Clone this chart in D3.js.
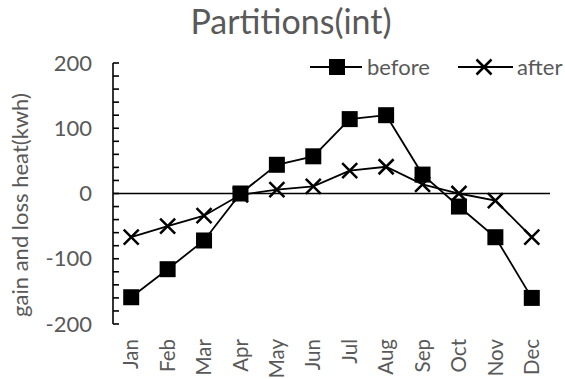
<!DOCTYPE html>
<html>
<head>
<meta charset="utf-8">
<script src="https://cdn.jsdelivr.net/npm/d3@7"></script>
<style>
  html, body { margin: 0; padding: 0; background: #fff; }
  text { font-family: Lato, "Open Sans", sans-serif; fill: #595959; }
</style>
</head>
<body>
<svg id="chart" width="565" height="379"></svg>
<script>
const months = ["Jan","Feb","Mar","Apr","May","Jun","Jul","Aug","Sep","Oct","Nov","Dec"];
const before = [-159, -116, -72, 0, 44, 57, 114, 120, 29, -20, -67, -160];
const after  = [-67, -50, -34, -2, 6, 11, 35, 41, 14, 0, -11, -67];
const yTicks = [-200, -100, 0, 100, 200];

const svg = d3.select("#chart");
const plotLeft = 113, plotRight = 550, plotTop = 63, plotBottom = 324;
const labelSize = "22px";

const x = d3.scaleBand().domain(months).range([plotLeft, plotRight]);
const y = d3.scaleLinear().domain([-200, 200]).range([plotBottom, plotTop]);
const cx = m => x(m) + x.bandwidth() / 2;

// title
svg.append("text").attr("x", 291).attr("y", 34).attr("text-anchor", "middle")
  .style("font-size", "34px").text("Partitions(int)");

// y axis with minor ticks every 20
const yAxis = svg.append("g").attr("transform", `translate(${plotLeft},0)`);
yAxis.append("line").attr("x1", 0).attr("x2", 0).attr("y1", y(200)).attr("y2", y(-200))
  .attr("stroke", "#000").attr("stroke-width", 1.6);
yAxis.selectAll("line.tick").data(d3.range(-200, 201, 20)).join("line")
  .attr("class", "tick").attr("x1", 0).attr("x2", 6)
  .attr("y1", d => y(d)).attr("y2", d => y(d))
  .attr("stroke", "#000").attr("stroke-width", 1.6);
yAxis.selectAll("text").data(yTicks).join("text")
  .attr("x", -21).attr("y", d => y(d)).attr("dy", "0.35em")
  .attr("text-anchor", "end").style("font-size", labelSize)
  .text(d => d);

// zero line
svg.append("line").attr("x1", plotLeft).attr("x2", plotRight).attr("y1", y(0)).attr("y2", y(0))
  .attr("stroke", "#000").attr("stroke-width", 1.6);

// y axis title
svg.append("text").attr("transform", `translate(20,205) rotate(-90)`)
  .attr("text-anchor", "middle").attr("dy", "0.35em").style("font-size", labelSize)
  .text("gain and loss heat(kwh)");

// month labels
svg.selectAll("text.month").data(months).join("text").attr("class", "month")
  .attr("transform", d => `translate(${cx(d)},339) rotate(-90)`)
  .attr("text-anchor", "end").attr("dy", "0.35em").style("font-size", "20.5px")
  .text(d => d);

const line = d3.line().x((d, i) => cx(months[i])).y(d => y(d));

// after series
svg.append("path").datum(after).attr("d", line).attr("fill", "none")
  .attr("stroke", "#000").attr("stroke-width", 1.8);
const xMark = (g, s) => g.append("path")
  .attr("d", `M${-s},${-s}L${s},${s}M${-s},${s}L${s},${-s}`)
  .attr("stroke", "#000").attr("stroke-width", 2.5).attr("fill", "none");
after.forEach((v, i) => {
  const g = svg.append("g").attr("transform", `translate(${cx(months[i])},${y(v)})`);
  xMark(g, 7.5);
});

// before series
svg.append("path").datum(before).attr("d", line).attr("fill", "none")
  .attr("stroke", "#000").attr("stroke-width", 1.8);
const sq = 16;
svg.selectAll("rect.before").data(before).join("rect").attr("class", "before")
  .attr("x", (d, i) => cx(months[i]) - sq / 2).attr("y", d => y(d) - sq / 2)
  .attr("width", sq).attr("height", sq).attr("fill", "#000");

// legend
const ly = 67;
svg.append("line").attr("x1", 310).attr("x2", 362).attr("y1", ly).attr("y2", ly)
  .attr("stroke", "#000").attr("stroke-width", 1.8);
svg.append("rect").attr("x", 337 - sq / 2).attr("y", ly - sq / 2)
  .attr("width", sq).attr("height", sq).attr("fill", "#000");
svg.append("text").attr("x", 367).attr("y", ly).attr("dy", "0.35em")
  .style("font-size", labelSize).text("before");
svg.append("line").attr("x1", 458).attr("x2", 513).attr("y1", ly).attr("y2", ly)
  .attr("stroke", "#000").attr("stroke-width", 1.8);
xMark(svg.append("g").attr("transform", `translate(484,${ly})`), 7.5);
svg.append("text").attr("x", 517).attr("y", ly).attr("dy", "0.35em")
  .style("font-size", labelSize).text("after");
</script>
</body>
</html>
